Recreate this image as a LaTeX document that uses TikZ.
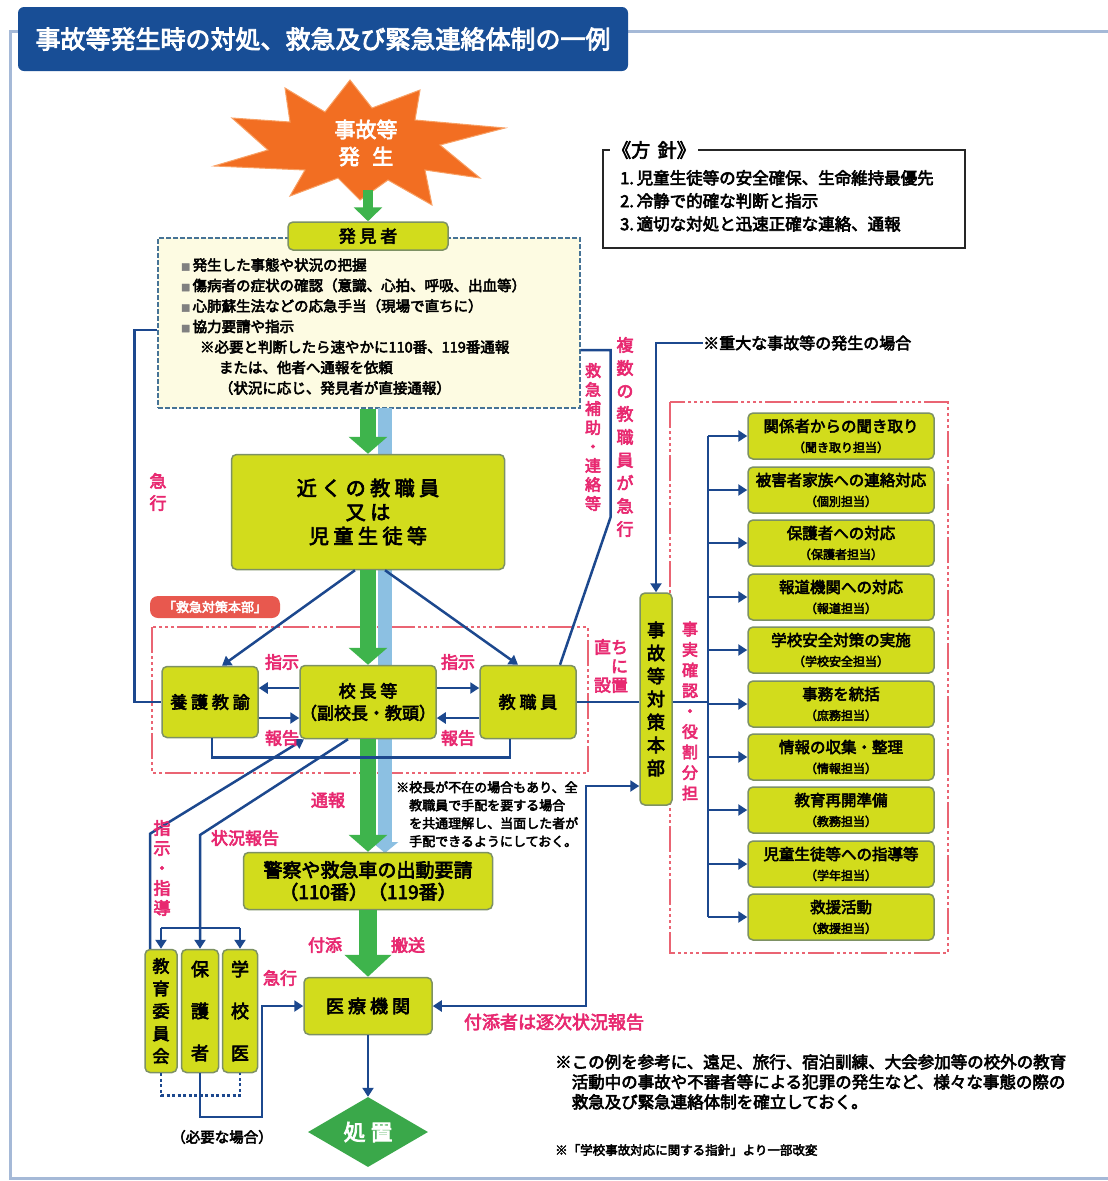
\documentclass[tikz,border=0pt]{standalone}
\usepackage{fontspec}
\setmainfont{Noto Sans CJK JP}
\newfontfamily\jb{Noto Sans CJK JP}[FakeBold=3.5]
\usetikzlibrary{arrows.meta,shapes.geometric,calc}
\definecolor{titleblue}{RGB}{24,78,150}
\definecolor{frameblue}{RGB}{165,185,215}
\definecolor{ygfill}{RGB}{210,220,28}
\definecolor{ygdraw}{RGB}{125,145,100}
\definecolor{paleyellow}{RGB}{253,251,226}
\definecolor{dashteal}{RGB}{70,115,150}
\definecolor{agreen}{RGB}{62,180,76}
\definecolor{barblue}{RGB}{140,192,226}
\definecolor{navy}{RGB}{28,72,142}
\definecolor{pinktxt}{RGB}{232,40,112}
\definecolor{pinkline}{RGB}{234,100,115}
\definecolor{starorange}{RGB}{242,110,34}
\definecolor{starrim}{RGB}{248,160,100}
\definecolor{labelred}{RGB}{232,88,78}
\definecolor{dgreen}{RGB}{58,168,74}
\newcommand{\myfs}[2]{\fontsize{#1}{#2}\selectfont}
\begin{document}
\begin{tikzpicture}[x=1pt,y=-1pt,
  ybox/.style={draw=ygdraw, fill=ygfill, line width=1.5pt, rounded corners=5pt, align=center, inner sep=0pt, text=black},
  conn/.style={draw=navy, line width=2.5pt},
  conna/.style={conn, -{Triangle[width=11pt,length=9pt]}},
  connb/.style={conn, {Triangle[width=11pt,length=9pt]}-{Triangle[width=11pt,length=9pt]}},
  garrow/.style={draw=agreen, line width=16pt, -{Triangle[width=38pt,length=17pt]}},
  pinklab/.style={text=pinktxt, font=\jb\myfs{17}{19}, align=center, inner sep=0pt},
  pinkrect/.style={draw=pinkline, line width=2.5pt, dash pattern=on 26pt off 3pt on 3pt off 3pt on 3pt off 3pt on 3pt off 3pt on 3pt off 3pt},
  role/.style={ybox, minimum width=186pt, minimum height=46pt, font=\jb\myfs{15.5}{20}},
  plaintxt/.style={inner sep=0pt, text=black}
]
\useasboundingbox (0,0) rectangle (1108,1181);
\fill[white] (0,0) rectangle (1108,1181);

% frame
\draw[frameblue, line width=3pt] (1115,31) -- (10,31) -- (10,1178) -- (1115,1178);

% title banner
\node[fill=titleblue, rounded corners=6pt, minimum width=610pt, minimum height=64pt, inner sep=0pt, text=white, font=\jb\myfs{25}{25}] (title) at (323,39) {事故等発生時の対処、救急及び緊急連絡体制の一例};

% policy box
\node[draw=black!85, line width=1.5pt, minimum width=362pt, minimum height=98pt, inner sep=0pt] (hoshin) at (784,199) {};
\node[fill=white, anchor=west, font=\jb\myfs{19}{19}, inner sep=2pt] (hoshintitle) at (610,150) {《方\hspace{0.4em}針》};
\node[plaintxt, anchor=north west, align=left, font=\jb\myfs{16.5}{23}] (hoshinitems) at (620,170) {1.\,児童生徒等の安全確保、生命維持最優先\\2.\,冷静で的確な判断と指示\\3.\,適切な対処と迅速正確な連絡、通報};

% starburst
\draw[fill=starorange, draw=starrim, line width=1pt]
  (214,166) -- (268,150) -- (232,118) -- (290,122) -- (285,88) -- (325,112) -- (350,80) -- (372,108)
  -- (420,90) -- (415,120) -- (505,128) -- (440,145) -- (480,178) -- (425,170) -- (432,205)
  -- (388,180) -- (360,200) -- (338,178) -- (290,196) -- (305,170) -- cycle;
\node[text=white, font=\jb\myfs{21}{27}, align=center, inner sep=0pt] (accident) at (366,143) {事故等\\発\hspace{0.6em}生};

% pink dashed frames
\draw[pinkrect] (152,627) rectangle (588,773);
\draw[pinkrect] (670,402) rectangle (948,953);

% finder area
\node[draw=dashteal, fill=paleyellow, line width=1.3pt, dash pattern=on 5pt off 2pt, minimum width=422pt, minimum height=170pt, inner sep=0pt] (finder) at (369,323) {};
\node[plaintxt, anchor=north west, align=left, font=\jb\myfs{14.5}{20.5}] (findtxt) at (181,258) {%
{\color{gray}\myfs{9}{9}■}\,発生した事態や状況の把握\\
{\color{gray}\myfs{9}{9}■}\,傷病者の症状の確認（意識、心拍、呼吸、出血等）\\
{\color{gray}\myfs{9}{9}■}\,心肺蘇生法などの応急手当（現場で直ちに）\\
{\color{gray}\myfs{9}{9}■}\,協力要請や指示\\
\hspace*{1.3em}※必要と判断したら速やかに110番、119番通報\\
\hspace*{2.6em}または、他者へ通報を依頼\\
\hspace*{2.6em}（状況に応じ、発見者が直接通報）};

% light blue bar
\coordinate (bartop) at (385,408);
\coordinate (barend) at (385,853);
\draw[draw=barblue, line width=14pt, -{Triangle[width=26pt,length=11pt]}] (bartop) -- (barend);

% main boxes
\node[ybox, minimum width=160pt, minimum height=28pt, font=\jb\myfs{17}{17}] (hakken) at (368,236) {発 見 者};
\node[ybox, minimum width=273pt, minimum height=115pt, font=\jb\myfs{20}{24}] (kinjo) at (368,512) {近 く の 教 職 員\\又 は\\児 童 生 徒 等};
\node[fill=labelred, rounded corners=8pt, text=white, font=\jb\myfs{13}{13}, minimum width=130pt, minimum height=22pt, inner sep=0pt] (kqhq) at (215,607) {「救急対策本部」};
\node[ybox, minimum width=96pt, minimum height=71pt, font=\jb\myfs{17}{17}] (yogo) at (210,702) {養 護 教 諭};
\node[ybox, minimum width=134pt, minimum height=73pt, font=\jb\myfs{17}{22}] (kocho) at (368,702) {校 長 等\\（副校長・教頭）};
\node[ybox, minimum width=96pt, minimum height=73pt, font=\jb\myfs{17}{17}] (kyoshoku) at (528,702) {教 職 員};
\node[ybox, minimum width=32pt, minimum height=212pt, font=\jb\myfs{18}{23}] (honbu) at (656,699) {事\\故\\等\\対\\策\\本\\部};
\node[ybox, minimum width=249pt, minimum height=57pt, font=\jb\myfs{19}{22}] (keisatsu) at (368,881) {警察や救急車の出動要請\\（110番）（119番）};
\node[ybox, minimum width=128pt, minimum height=57pt, font=\jb\myfs{18}{18}] (iryo) at (368,1006) {医 療 機 関};
\node[ybox, minimum width=32pt, minimum height=123pt, font=\jb\myfs{17}{22.5}] (kyoi) at (161,1011) {教\\育\\委\\員\\会};
\node[ybox, minimum width=37pt, minimum height=123pt, font=\jb\myfs{18}{42}] (hogo) at (200,1011) {保\\護\\者};
\node[ybox, minimum width=35pt, minimum height=123pt, font=\jb\myfs{18}{42}] (gakko) at (240,1011) {学\\校\\医};
\node[diamond, fill=dgreen, minimum width=120pt, minimum height=70pt, inner sep=0pt, text=white, font=\jb\myfs{22}{22}] (shochi) at (368,1132) {処 置};

% role boxes with bus
\coordinate (bus) at (708,436);
\coordinate (busend) at (708,917);
\draw[conn] (bus) -- (busend);
\foreach \i/\yy/\ta/\tb in {1/436/関係者からの聞き取り/（聞き取り担当）,
  2/490/被害者家族への連絡対応/（個別担当）,
  3/543/保護者への対応/（保護者担当）,
  4/597/報道機関への対応/（報道担当）,
  5/650/学校安全対策の実施/（学校安全担当）,
  6/704/事務を統括/（庶務担当）,
  7/757/情報の収集・整理/（情報担当）,
  8/810/教育再開準備/（教務担当）,
  9/864/児童生徒等への指導等/（学年担当）,
  10/917/救援活動/（救援担当）}{
  \node[role] (r\i) at (841,\yy) {\ta\\{\myfs{12}{14}\tb}};
  \draw[conna] (r\i.west -| bus) -- (r\i.west);
}

% green arrows
\coordinate (starbot) at (368,190);
\draw[draw=agreen, line width=10pt, -{Triangle[width=28pt,length=14pt]}] (starbot) -- (hakken.north);
\draw[garrow] (finder.south -| kinjo.north) -- (kinjo.north);
\draw[garrow] (kinjo.south) -- (kocho.north);
\draw[garrow] (kocho.south) -- (keisatsu.north);
\draw[draw=agreen, line width=18pt, -{Triangle[width=46pt,length=22pt]}] (keisatsu.south) -- (iryo.north);

% connectors
\draw[conna] ([xshift=-13pt]kinjo.south) -- ([xshift=12pt]yogo.north);
\draw[conna] ([xshift=17pt]kinjo.south) -- ([xshift=-10pt]kyoshoku.north);
\draw[conna] ([yshift=14pt]kocho.west) -- ([yshift=14pt]yogo.east);
\draw[conna] ([yshift=-16pt]yogo.east) -- ([yshift=-16pt]kocho.west);
\draw[conna] ([yshift=14pt]kocho.east) -- ([yshift=14pt]kyoshoku.east -| kyoshoku.west);
\draw[conna] ([yshift=-16pt]kyoshoku.west) -- ([yshift=-16pt]kocho.east);
\draw[conn] ([xshift=2pt]yogo.south) -- ++(0,19) -| ([xshift=-18pt]kyoshoku.south);
\draw[conn] ([yshift=-7pt]finder.west) -- ++(-23,0) |- (yogo.west);
\draw[conn] ([yshift=-27pt]finder.east) -- ++(30,0) -- ++(0,167) -- ([xshift=32pt]kyoshoku.north);
\draw[conn] (kyoshoku.east) -- (kyoshoku.east -| honbu.west);
\draw[conn] (kyoshoku.east -| honbu.east) -- (kyoshoku.east -| bus);
\node[plaintxt, anchor=west, font=\jb\myfs{16}{16}] (jyudai) at (703,343) {※重大な事故等の発生の場合};
\draw[conna] (jyudai.west) -| (honbu.north);
\coordinate (tsu) at (586,1006);
\draw[connb] (iryo.east) -- (tsu) |- ([yshift=-87pt]honbu.west);
\draw[conna] ([xshift=-11pt]kyoi.north) -- ++(0,-115) -- ([xshift=-64pt]kocho.south);
\coordinate (jk) at (200,835);
\draw[conna] ([xshift=-20pt]kocho.south) -- (jk) -- (hogo.north);
\coordinate (brL) at (161,928);
\coordinate (brR) at (240,928);
\draw[conn] (brL) -- (brR);
\draw[conna] (brL) -- (kyoi.north);
\draw[conna] (brR) -- (gakko.north);
\draw[draw=navy, line width=2.5pt, dash pattern=on 3pt off 2.5pt] (kyoi.south) -- ++(0,22) -| (gakko.south);
\coordinate (hk1) at (262,1117);
\draw[conna] (hogo.south) |- (hk1) |- (iryo.west);
\draw[conna] (iryo.south) -- (shochi.north);

% pink labels
\node[pinklab, font=\jb\myfs{17}{22}] (lkyuko) at (158,492) {急\\行};
\node[pinklab, font=\jb\myfs{16}{19}] (lhojo) at (593,437) {救\\急\\補\\助\\・\\連\\絡\\等};
\node[pinklab, font=\jb\myfs{17}{23}] (lfukusu) at (625,437) {複\\数\\の\\教\\職\\員\\が\\急\\行};
\node[pinklab] (lshiji1) at (282,662) {指示};
\node[pinklab] (lshiji2) at (458,662) {指示};
\node[pinklab] (lhokoku1) at (282,738) {報告};
\node[pinklab] (lhokoku2) at (458,738) {報告};
\node[pinklab, align=right] (ltadachi) at (611,666) {直ち\\に\\設置};
\node[pinklab, font=\jb\myfs{16}{20.5}] (ljijitsu) at (690,711) {事\\実\\確\\認\\・\\役\\割\\分\\担};
\node[pinklab] (ltsuho) at (328,800) {通報};
\node[pinklab] (ljokyo) at (245,838) {状況報告};
\node[pinklab, font=\jb\myfs{17}{20}] (lshido) at (162,868) {指\\示\\・\\指\\導};
\node[pinklab] (ltsukisoi) at (325,945) {付添};
\node[pinklab] (lhanso) at (408,945) {搬送};
\node[pinklab] (lkyuko2) at (280,978) {急行};
\node[pinklab, font=\jb\myfs{18}{18}] (ltsukisoisha) at (554,1022) {付添者は逐次状況報告};

% notes
\node[plaintxt, anchor=north west, align=left, font=\jb\myfs{13}{18}] (absent) at (396,781) {※校長が不在の場合もあり、全\\\hspace*{1em}教職員で手配を要する場合\\\hspace*{1em}を共通理解し、当面した者が\\\hspace*{1em}手配できるようにしておく。};
\node[plaintxt, font=\jb\myfs{14.5}{15}] (hitsuyo) at (222,1137) {（必要な場合）};
\node[plaintxt, anchor=north west, align=left, font=\jb\myfs{16.5}{20}] (note1) at (555,1054) {※この例を参考に、遠足、旅行、宿泊訓練、大会参加等の校外の教育\\\hspace*{1em}活動中の事故や不審者等による犯罪の発生など、様々な事態の際の\\\hspace*{1em}救急及び緊急連絡体制を確立しておく。};
\node[plaintxt, anchor=west, font=\jb\myfs{12.5}{13}] (note2) at (555,1150) {※「学校事故対応に関する指針」より一部改変};
\end{tikzpicture}
\end{document}
